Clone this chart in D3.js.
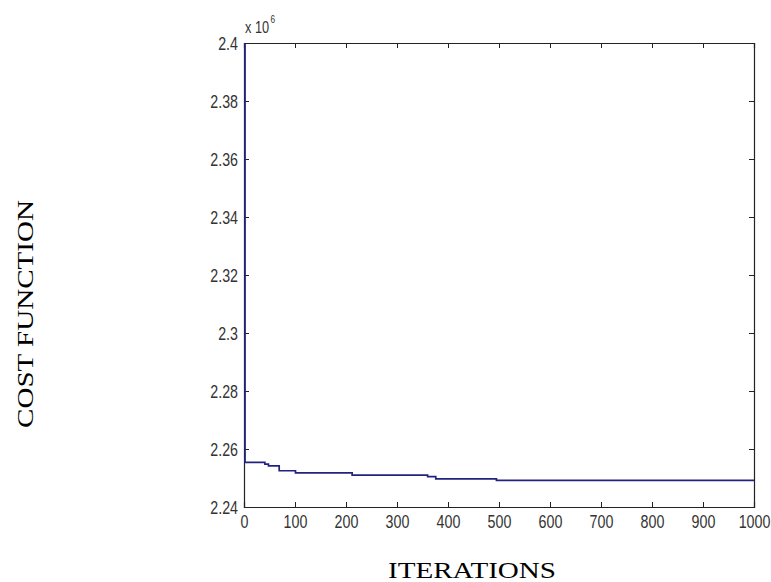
<!DOCTYPE html>
<html>
<head>
<meta charset="utf-8">
<script src="https://cdn.jsdelivr.net/npm/d3@7"></script>
<style>
  body { margin: 0; background: #fff; }
</style>
</head>
<body>
<div id="maincontainer"></div>
<script>
	// data (cost in units of 1e6)
	let iterations = [2, 2, 41, 48, 69, 101, 212, 360, 376, 495, 1000];
	let cost = [2.4, 2.2554, 2.2548, 2.2542, 2.2525, 2.2518, 2.2510, 2.2505, 2.2497, 2.2492, 2.2492];
	let xTicks = [0, 100, 200, 300, 400, 500, 600, 700, 800, 900, 1000];
	let yTicks = [2.24, 2.26, 2.28, 2.3, 2.32, 2.34, 2.36, 2.38, 2.4];

	let width = 771;
	let height = 582;
	let plotLeft = 244, plotRight = 754, plotTop = 43, plotBottom = 507;

	let svg = d3.select("#maincontainer")
		.append("svg")
		.attr("width", width)
		.attr("height", height)
		.style("background", "#fff");

	let x = d3.scaleLinear().domain([0, 1000]).range([plotLeft, plotRight]);
	let y = d3.scaleLinear().domain([2.24, 2.4]).range([plotBottom, plotTop]);

	let fmt = d => String(+d.toFixed(2));

	// axes (MATLAB style box with inward ticks)
	let tickFont = "'Liberation Sans', Arial, sans-serif";
	let squeeze = 0.75; // narrow tick font look

	let xAxis = svg.append("g")
		.attr("transform", `translate(0,${plotBottom})`)
		.call(d3.axisBottom(x).tickValues(xTicks).tickSize(-5).tickPadding(8).tickFormat(d3.format("d")));
	let yAxis = svg.append("g")
		.attr("transform", `translate(${plotLeft},0)`)
		.call(d3.axisLeft(y).tickValues(yTicks).tickSize(-5).tickPadding(8).tickFormat(fmt));
	let xTop = svg.append("g")
		.attr("transform", `translate(0,${plotTop})`)
		.call(d3.axisTop(x).tickValues(xTicks).tickSize(-5).tickFormat(""));
	let yRight = svg.append("g")
		.attr("transform", `translate(${plotRight},0)`)
		.call(d3.axisRight(y).tickValues(yTicks).tickSize(-5).tickFormat(""));

	[xAxis, yAxis, xTop, yRight].forEach(a => {
		a.select(".domain").attr("stroke", "#222").attr("stroke-width", 1.2);
		a.selectAll(".tick line").attr("stroke", "#222");
		a.selectAll(".tick text")
			.attr("fill", "#333")
			.attr("transform", `scale(${squeeze},1)`)
			.style("font-family", tickFont)
			.style("font-size", "19px");
	});

	// clip to the plot box
	svg.append("clipPath").attr("id", "plotclip")
		.append("rect")
		.attr("x", plotLeft).attr("y", plotTop)
		.attr("width", plotRight - plotLeft).attr("height", plotBottom - plotTop);

	let line = d3.line()
		.x((d, i) => x(iterations[i]))
		.y(d => y(d))
		.curve(d3.curveStepAfter);

	svg.append("path")
		.datum(cost)
		.attr("clip-path", "url(#plotclip)")
		.attr("fill", "none")
		.attr("stroke", "#23237f")
		.attr("stroke-width", 1.7)
		.attr("d", line);

	// exponent label
	let expo = svg.append("text")
		.attr("transform", `translate(${plotLeft + 1},33) scale(${squeeze},1)`)
		.attr("fill", "#333")
		.style("font-family", tickFont)
		.style("font-size", "17px")
		.text("x 10");
	expo.append("tspan")
		.attr("dy", -10)
		.attr("dx", 2)
		.style("font-size", "11px")
		.text("6");

	// axis titles
	svg.append("text")
		.attr("x", 472)
		.attr("y", 578)
		.attr("text-anchor", "middle")
		.attr("textLength", 168)
		.attr("lengthAdjust", "spacingAndGlyphs")
		.style("font-family", "'Liberation Serif', 'Times New Roman', serif")
		.style("font-size", "24px")
		.text("ITERATIONS");

	svg.append("text")
		.attr("transform", "translate(33,314) rotate(-90)")
		.attr("text-anchor", "middle")
		.attr("textLength", 228)
		.attr("lengthAdjust", "spacingAndGlyphs")
		.style("font-family", "'Liberation Serif', 'Times New Roman', serif")
		.style("font-size", "24px")
		.text("COST FUNCTION");
</script>
</body>
</html>
